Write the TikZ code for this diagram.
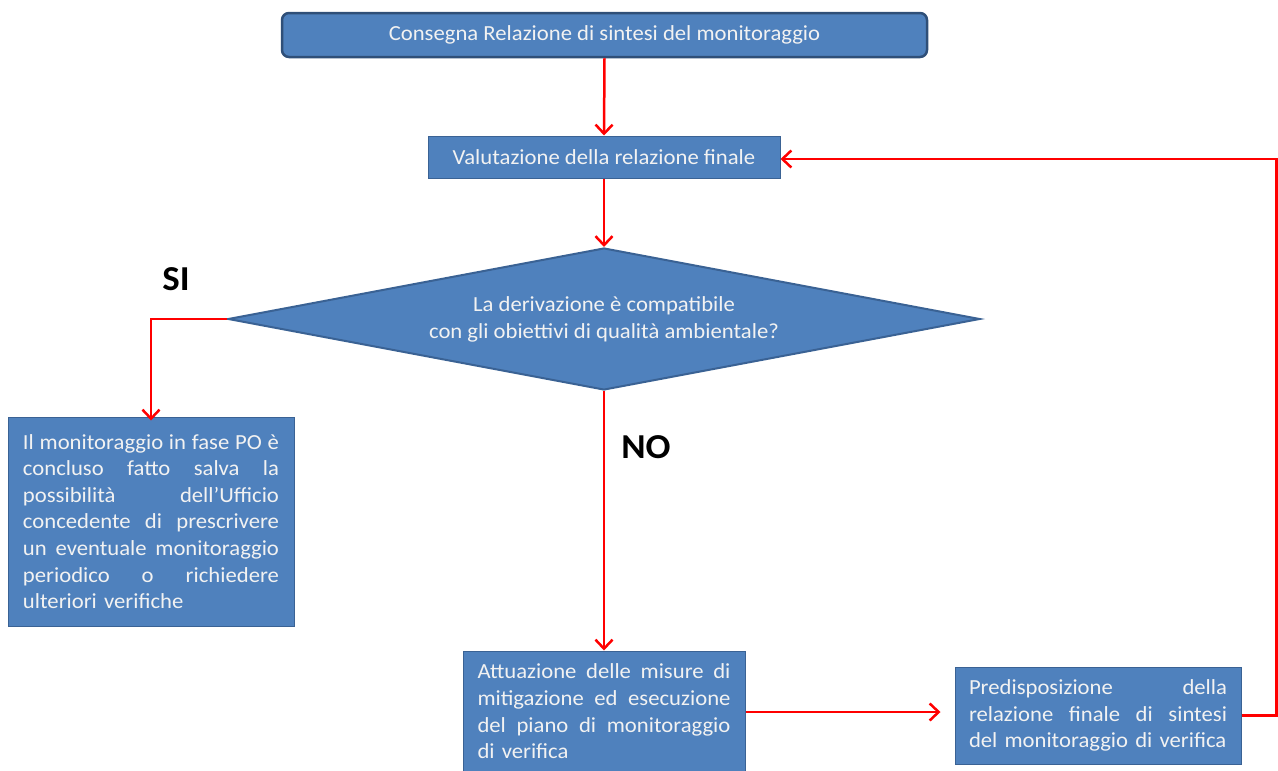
\documentclass[tikz,border=0pt]{standalone}
\usepackage{fontspec}
\setmainfont{Carlito}[FakeStretch=1.055]
\usetikzlibrary{shapes.geometric,arrows.meta}
\definecolor{boxfill}{HTML}{4F81BD}
\definecolor{boxline}{HTML}{3A6294}
\definecolor{topline}{HTML}{2F4F78}
\definecolor{txt}{HTML}{F2F2F2}
\newcommand{\jline}[2]{\hbox to #1{\spaceskip=0.22em plus 1fil\relax #2}}
\newcommand{\lastline}[1]{\hbox{#1}}
\tikzset{
  box/.style={draw=boxline, line width=1pt, fill=boxfill, text=txt, inner sep=0pt,
    font=\fontsize{21.5}{26.6}\selectfont},
  topbox/.style={box, draw=topline, line width=2.5pt, rounded corners=7pt},
  decision/.style={diamond, aspect=5.3, draw=boxline, line width=2pt, fill=boxfill, text=txt,
    inner sep=0pt, font=\fontsize{21.5}{27}\selectfont, align=center},
  flow/.style={draw=red, line width=2.5pt, -{Straight Barb[length=9pt,width=17pt]}},
  answer/.style={font=\fontsize{35}{40}\selectfont\bfseries, text=black}
}
\begin{document}
\begin{tikzpicture}[x=1pt,y=-1pt]
\useasboundingbox (0,0) rectangle (1278,771);
\node[topbox, minimum width=645pt, minimum height=44pt] (top) at (604.5,35) {Consegna Relazione di sintesi del monitoraggio};
\node[box, minimum width=352pt, minimum height=42pt] (val) at (604,157) {Valutazione della relazione finale};
\node[decision, minimum width=752pt, minimum height=142pt] (dia) at (604,319) {La derivazione è compatibile\\con gli obiettivi di qualità ambientale?};
\node[box, minimum width=286pt, minimum height=209pt, text width=256pt, align=left] (left) at (151,521.5)
 {\jline{256pt}{Il monitoraggio in fase PO è}
  \jline{256pt}{concluso fatto salva la}
  \jline{256pt}{possibilità dell’Ufficio}
  \jline{256pt}{concedente di prescrivere}
  \jline{256pt}{un eventuale monitoraggio}
  \jline{256pt}{periodico o richiedere}
  \lastline{ulteriori verifiche}};
\node[box, minimum width=282pt, minimum height=121pt, text width=253pt, align=left] (att) at (604,711.5)
 {\jline{253pt}{Attuazione delle misure di}
  \jline{253pt}{mitigazione ed esecuzione}
  \jline{253pt}{del piano di monitoraggio}
  \lastline{di verifica}};
\node[box, minimum width=286pt, minimum height=97pt, text width=258pt, align=left] (pred) at (1098,715.5)
 {\jline{258pt}{Predisposizione della}
  \jline{258pt}{relazione finale di sintesi}
  \lastline{del monitoraggio di verifica}};
\node[answer] (si) at (176,279) {SI};
\node[answer] (no) at (646,447) {NO};
\draw[flow] (top.south) -- (val.north);
\draw[flow] (val.south) -- (dia.north);
\draw[flow] (dia.west) -| ([yshift=-4pt]left.north);
\draw[flow] (dia.south) -- (att.north);
\draw[flow, shorten >=14pt] ([yshift=-0.5pt]att.east) -- ([yshift=-0.5pt]att.east -| pred.west);
\draw[flow] (pred.east) -- ++(35,0) |- ([yshift=-2pt]val.east);
\end{tikzpicture}
\end{document}
